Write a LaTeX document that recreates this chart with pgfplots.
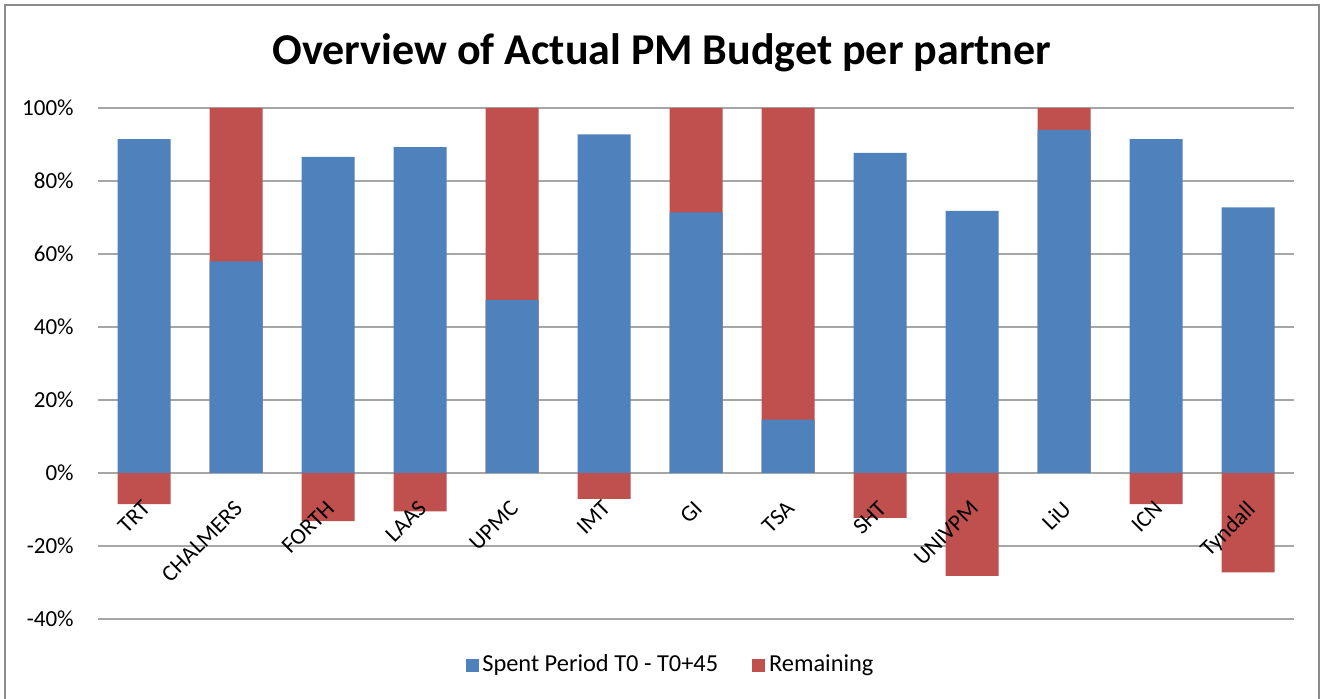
\documentclass[border=0pt]{standalone}
\usepackage{pgfplots}
\pgfplotsset{compat=1.18}
\usepackage{fontspec}
\setmainfont{Carlito}

\definecolor{xblue}{HTML}{4F81BD}
\definecolor{xred}{HTML}{C0504D}
\definecolor{gridgray}{HTML}{A6A6A6}
\definecolor{framegray}{HTML}{8C8C8C}

% tick labels above the bars, as in the original
\pgfplotsset{
  layers/labels on top/.define layer set={axis background,axis grid,axis ticks,axis lines,pre main,main,axis tick labels,axis descriptions,axis foreground}{
    grid style={/pgfplots/on layer=axis grid},
    tick style={/pgfplots/on layer=axis ticks},
    axis line style={/pgfplots/on layer=axis lines},
    label style={/pgfplots/on layer=axis descriptions},
    legend style={/pgfplots/on layer=axis descriptions},
    title style={/pgfplots/on layer=axis descriptions},
    ticklabel style={/pgfplots/on layer=axis tick labels},
    axis background@ style={/pgfplots/on layer=axis background},
  },
}

% spent = blue bar; top = end of the red bar (100 where budget remains, negative value where overspent)
\pgfplotstableread{
idx spent top
0  91.5  -8.5
1  58.0  100
2  86.6  -13.2
3  89.3  -10.5
4  47.4  100
5  92.8  -7.1
6  71.4  100
7  14.6  100
8  87.7  -12.3
9  71.8  -28.2
10 94.0  100
11 91.5  -8.5
12 72.8  -27.2
}\budget

\begin{document}
\begin{tikzpicture}
\begin{axis}[
  scale only axis,
  width=598pt, height=255.5pt,
  set layers=labels on top,
  xmin=-0.5, xmax=12.5,
  ymin=-40, ymax=100,
  axis x line*=middle,
  axis y line*=left,
  x axis line style={-, draw=gridgray, line width=1pt},
  y axis line style={draw=none},
  hide obscured x ticks=false,
  hide obscured y ticks=false,
  major tick length=0pt,
  ymajorgrids,
  grid style={gridgray, line width=1pt},
  ytick={-40,-20,0,20,40,60,80,100},
  yticklabels={-40\%,-20\%,0\%,20\%,40\%,60\%,80\%,100\%},
  xtick={0,...,12},
  xticklabels={TRT,CHALMERS,FORTH,LAAS,UPMC,IMT,GI,TSA,SHT,UNIVPM,LiU,ICN,Tyndall},
  y tick label style={font=\fontsize{11.5}{13}\selectfont, inner sep=0pt, xshift=-12pt},
  x tick label style={font=\fontsize{11.5}{13}\selectfont, inner sep=0pt, xshift=-1.5pt, yshift=-13pt, rotate=45, anchor=north east},
  ybar, bar width=26.5pt, bar shift=0pt,
  legend style={at={(0.4795,-0.09)}, anchor=center, draw=none, legend columns=2,
    font=\fontsize{12.2}{14}\selectfont,
    /tikz/every even column/.append style={column sep=15pt}},
]
\addplot[fill=xred, draw=none, forget plot] table[x=idx, y=top] {\budget};
\addplot[fill=xblue, draw=none, forget plot] table[x=idx, y=spent] {\budget};
\addlegendimage{legend image code/.code={\fill[xblue] (-2pt,-3pt) rectangle (4pt,3pt);}}
\addlegendentry{Spent Period T0 - T0+45}
\addlegendimage{legend image code/.code={\fill[xred] (-2pt,-3pt) rectangle (4pt,3pt);}}
\addlegendentry{Remaining}
\end{axis}
\node[font=\bfseries\fontsize{22}{26}\selectfont, anchor=base] at (282pt,277pt) {Overview of Actual PM Budget per partner};
\pgfresetboundingbox
\useasboundingbox (-49pt,-40pt) rectangle (614pt,309.5pt);
\draw[framegray, line width=1pt] (-46.5pt,-45pt) -- (-46.5pt,307pt) -- (610.5pt,307pt) -- (610.5pt,-45pt);
\end{tikzpicture}
\end{document}
